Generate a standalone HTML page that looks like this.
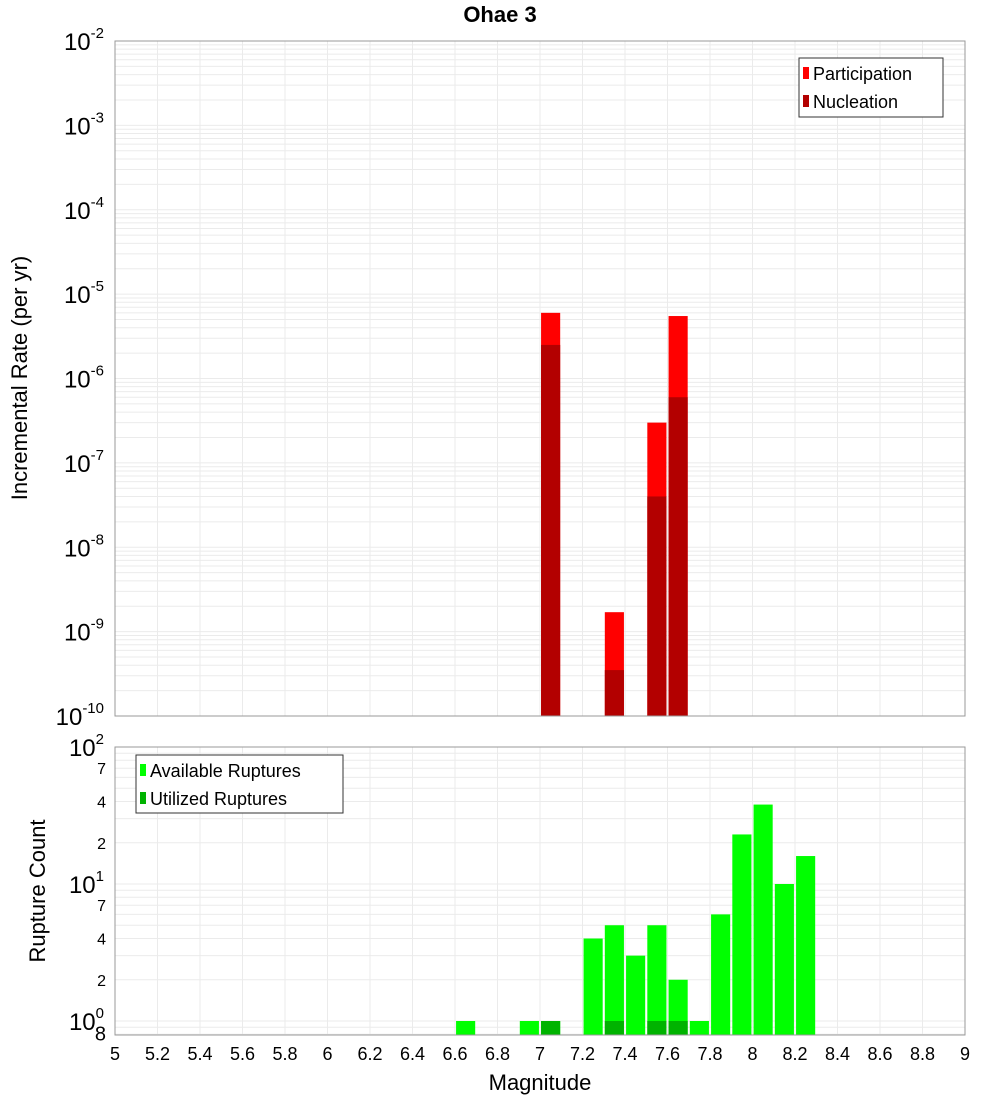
<!DOCTYPE html>
<html><head><meta charset="utf-8"><style>
body{margin:0;background:#fff;}
text{font-family:"Liberation Sans","DejaVu Sans",sans-serif;}
</style></head><body>
<svg id="c" width="1000" height="1100" xmlns="http://www.w3.org/2000/svg"></svg>
<script>
const mags=[7.05,7.35,7.55,7.65];
const participation=[6e-6,1.7e-9,3e-7,5.5e-6];
const nucleation=[2.5e-6,3.5e-10,4e-8,6e-7];
const countMags=[6.65,6.95,7.05,7.25,7.35,7.45,7.55,7.65,7.75,7.85,7.95,8.05,8.15,8.25];
const available=[1,1,1,4,5,3,5,2,1,6,23,38,10,16];
const utilMags=[7.05,7.35,7.55,7.65];
const utilized=[1,1,1,1];
const xTicks=[5,5.2,5.4,5.6,5.8,6,6.2,6.4,6.6,6.8,7,7.2,7.4,7.6,7.8,8,8.2,8.4,8.6,8.8,9];
const topDecades=[-2,-3,-4,-5,-6,-7,-8,-9,-10];

const svg=document.getElementById('c');const NS='http://www.w3.org/2000/svg';
function el(t,a,p){const e=document.createElementNS(NS,t);for(const k in a)e.setAttribute(k,a[k]);(p||svg).appendChild(e);return e;}
const X0=115,X1=965;
const x=m=>X0+(m-5)/4*(X1-X0);
const T0=41,T1=716;
const yT=v=>T0+(-2-Math.log10(v))/8*(T1-T0);
const B0=747,B1=1035;
const yB=v=>1021-Math.log10(v)*137;

// title
let t=el('text',{x:500,y:22,'text-anchor':'middle','font-size':22,'font-weight':'bold'});t.textContent='Ohae 3';


// top panel
let g=el('g',{});
el('rect',{x:X0,y:T0,width:X1-X0,height:T1-T0,fill:'#fff'},g);
for(const d of xTicks){el('line',{x1:x(d),x2:x(d),y1:T0,y2:T1,stroke:'#ebebeb'},g);}
for(let e=-10;e<-2;e++)for(let k=1;k<10;k++){const y=yT(k*Math.pow(10,e));el('line',{x1:X0,x2:X1,y1:y,y2:y,stroke:'#ebebeb'},g);}
mags.forEach((m,i)=>{
 let r=el('rect',{x:x(m-0.045),y:yT(participation[i]),width:x(0.09)-x(0),height:T1-yT(participation[i]),fill:'#ff0000'},g);
 
 r=el('rect',{x:x(m-0.045),y:yT(nucleation[i]),width:x(0.09)-x(0),height:T1-yT(nucleation[i]),fill:'#b30000'},g);
 
});
el('rect',{x:X0,y:T0,width:X1-X0,height:T1-T0,fill:'none',stroke:'#999'},g);
topDecades.forEach(d=>{const y=yT(Math.pow(10,d));
 const tx=el('text',{x:104,y:y+9,'text-anchor':'end','font-size':24},g);
 tx.innerHTML='10<tspan dy="-12" font-size="15">'+d+'</tspan>';
 });
t=el('text',{transform:'translate(27,378) rotate(-90)','text-anchor':'middle','font-size':22});t.textContent='Incremental Rate (per yr)';

let lg=el('g',{});
el('rect',{x:799,y:58,width:144,height:59,fill:'#fff',stroke:'#333'},lg);
el('rect',{x:803,y:67,width:6,height:12,fill:'#ff0000'},lg);
el('rect',{x:803,y:95,width:6,height:12,fill:'#b30000'},lg);
t=el('text',{x:813,y:80,'font-size':18},lg);t.textContent='Participation';
t=el('text',{x:813,y:108,'font-size':18},lg);t.textContent='Nucleation';

// bottom panel
g=el('g',{});
for(const d of xTicks){el('line',{x1:x(d),x2:x(d),y1:B0,y2:B1,stroke:'#ebebeb'},g);}
for(let e=-1;e<2;e++)for(let k=1;k<10;k++){const v=k*Math.pow(10,e);const y=yB(v);if(y<B0||y>B1)continue;el('line',{x1:X0,x2:X1,y1:y,y2:y,stroke:'#ebebeb'},g);}
countMags.forEach((m,i)=>{const r=el('rect',{x:x(m-0.045),y:yB(available[i]),width:x(0.09)-x(0),height:B1-yB(available[i]),fill:'#00ff00'},g);
 });
utilMags.forEach((m,i)=>{const r=el('rect',{x:x(m-0.045),y:yB(utilized[i]),width:x(0.09)-x(0),height:B1-yB(utilized[i]),fill:'#00b300'},g);
 });
el('rect',{x:X0,y:B0,width:X1-X0,height:B1-B0,fill:'none',stroke:'#999'},g);
[[2,'2'],[1,'1'],[0,'0']].forEach(([d,s])=>{const y=yB(Math.pow(10,d));
 const tx=el('text',{x:104,y:y+9,'text-anchor':'end','font-size':24},g);
 tx.innerHTML='10<tspan dy="-12" font-size="15">'+s+'</tspan>';
 });
[[70,'7'],[40,'4'],[20,'2'],[7,'7'],[4,'4'],[2,'2'],[0.8,'8']].forEach(([v,s])=>{const tx=el('text',{x:106,y:yB(v)+6,'text-anchor':'end','font-size':v<1?20:16},g);tx.textContent=s;});
t=el('text',{transform:'translate(45,891) rotate(-90)','text-anchor':'middle','font-size':22});t.textContent='Rupture Count';

xTicks.forEach(d=>{const tx=el('text',{x:x(d),y:1060,'text-anchor':'middle','font-size':18});tx.textContent=String(d);
 });
t=el('text',{x:540,y:1090,'text-anchor':'middle','font-size':22});t.textContent='Magnitude';

lg=el('g',{});
el('rect',{x:136,y:755,width:207,height:58,fill:'#fff',stroke:'#333'},lg);
el('rect',{x:140,y:764,width:6,height:12,fill:'#00ff00'},lg);
el('rect',{x:140,y:792,width:6,height:12,fill:'#00b300'},lg);
t=el('text',{x:150,y:777,'font-size':18},lg);t.textContent='Available Ruptures';
t=el('text',{x:150,y:805,'font-size':18},lg);t.textContent='Utilized Ruptures';
</script>
</body></html>
